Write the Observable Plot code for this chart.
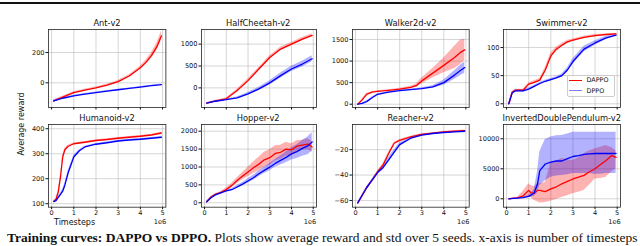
<!DOCTYPE html>
<html><head><meta charset="utf-8">
<script src="https://cdn.jsdelivr.net/npm/d3@7"></script>
<script src="https://cdn.jsdelivr.net/npm/@observablehq/plot@0.6"></script>
<style>
html,body{margin:0;padding:0;background:#fff;overflow:hidden}
#root{position:relative;width:640px;height:246px;overflow:hidden;font-family:"DejaVu Sans",sans-serif;color:#111}
#root svg{position:absolute;overflow:visible}
.t{position:absolute;white-space:nowrap;line-height:1}
.ttl{font-size:8.3px;transform:translateX(-50%)}
</style></head>
<body><div id="root"></div>
<script>
// ---- data (x in millions of timesteps) ----
const titles = ["Ant-v2","HalfCheetah-v2","Walker2d-v2","Swimmer-v2","Humanoid-v2","Hopper-v2","Reacher-v2","InvertedDoublePendulum-v2"];
const seriesNames = ["DAPPO","DPPO"];
const xTicks = [0,1,2,3,4,5];

const antX = [0.1,0.5,1,1.5,2,2.5,3,3.5,4,4.25,4.5,4.75,4.95];
const antRed = [-120,-95,-65,-48,-33,-15,8,45,100,135,180,240,310];
const antRedSd = [6,6,6,6,6,6,7,8,10,14,18,25,30];
const antBlue = [-120,-102,-86,-75,-65,-55,-46,-37,-28,-23,-19,-15,-12];
const antBlueSd = [8,5,4,4,4,4,4,3,3,3,3,3,3];
const antYTicks = [0,200];

const hcX = [0.1,0.5,1,1.5,2,2.5,3,3.5,4,4.5,4.95];
const hcRed = [-350,-300,-250,-61,166,432,695,886,1000,1114,1200];
const hcRedSd = [10,15,20,30,35,35,40,40,35,35,35];
const hcBlue = [-350,-305,-266,-227,-136,-23,114,280,432,545,665];
const hcBlueSd = [10,15,15,20,30,40,50,60,60,65,70];
const hcYTicks = [0,500,1000];

const wkX = [0.1,0.3,0.5,0.75,1,1.5,2,2.5,2.75,3,3.5,4,4.5,4.75,4.95];
const wkRed = [0,100,230,280,295,320,350,390,430,540,720,900,1090,1200,1260];
const wkRedSd = [5,20,20,15,15,15,20,25,40,70,110,170,260,280,250];
const wkBlue = [0,20,60,150,230,280,315,340,350,360,400,500,680,780,850];
const wkBlueSd = [5,10,15,15,15,15,15,15,15,20,30,60,100,120,130];
const wkYTicks = [0,500,1000,1500];

const swX = [0.1,0.25,0.4,0.75,1,1.25,1.5,1.75,2,2.25,2.5,2.75,3,3.5,4,4.5,4.95];
const swRed = [0,20,24,24,35,38,42,60,85,97,104,110,113,118,121,123,124];
const swRedSd = [1,2,2,2,2,3,3,5,5,4,3,3,2,2,2,1,1];
const swBlue = [0,19,23,23,26,31,36,40,43,46,50,60,75,97,108,117,122];
const swBlueSd = [1,2,2,2,2,2,2,2,2,2,3,4,5,5,4,3,2];
const swYTicks = [0,50,100];

const huX = [0.1,0.2,0.3,0.4,0.5,0.6,0.75,1,1.25,1.5,2,2.5,3,3.5,4,4.5,4.95];
const huRed = [110,118,147,207,287,316,330,340,343,346,353,357,362,366,370,375,383];
const huRedSd = [3,4,6,8,8,6,4,3,3,3,3,3,3,3,3,3,3];
const huBlue = [108,112,125,137,150,175,225,287,312,327,338,344,351,355,358,362,366];
const huBlueSd = [3,4,5,6,7,8,8,6,4,3,3,3,3,3,3,3,3];
const huYTicks = [100,200,300,400];

const hoX = [0.1,0.3,0.5,0.75,1,1.25,1.5,1.75,2,2.25,2.5,2.75,3,3.25,3.5,3.75,4,4.25,4.5,4.75,4.95];
const hoRed = [30,160,235,285,370,480,620,745,860,980,1080,1200,1260,1380,1410,1500,1480,1580,1610,1640,1560];
const hoRedSd = [10,20,20,30,40,60,80,100,130,160,190,210,220,210,200,190,170,150,140,150,150];
const hoBlue = [30,140,220,275,330,365,440,520,610,700,810,905,995,1100,1185,1270,1365,1430,1520,1590,1700];
const hoBlueSd = [10,20,20,20,25,30,40,50,60,70,80,90,100,110,130,150,170,190,220,250,260];
const hoYTicks = [0,500,1000,1500,2000];

const reX = [0.1,0.5,0.75,1,1.25,1.5,1.75,2,2.5,3,3.5,4,4.5,4.95];
const reRed = [-62,-50,-44,-37.5,-32,-23,-15,-12.7,-10,-8,-7,-6,-5.5,-5];
const reRedSd = [0.5,0.5,0.5,0.7,1,1,0.8,0.6,0.5,0.5,0.4,0.4,0.4,0.4];
const reBlue = [-62,-50,-44,-38,-34,-28,-22,-16,-11,-8.5,-7.3,-6.5,-6,-5.5];
const reBlueSd = [0.5,0.5,0.6,1,2,2,2,1.5,1,0.6,0.5,0.4,0.4,0.4];
const reYTicks = [-60,-40,-20];

const idX = [0.1,0.5,0.75,1,1.1,1.25,1.4,1.5,1.75,2,2.25,2.5,2.75,3,3.25,3.5,3.75,4,4.25,4.5,4.75,4.95];
const idRed = [0,150,500,1400,1000,900,1400,1400,1200,1650,2000,2500,2900,3300,3600,3900,4500,5000,5700,6400,7200,6900];
const idRedLo = [0,50,100,300,200,-300,-500,-700,-600,-400,-100,200,500,830,1100,1400,2300,3300,3400,3600,4500,5000];
const idRedHi = [0,300,1200,2500,2200,2000,2500,2500,2700,6000,6300,6700,6500,6400,6800,7500,8000,8300,8600,8900,8500,8000];
const idBlue = [0,100,200,400,600,1000,2500,4700,5800,6100,6300,6300,6700,7050,7200,7400,7500,7550,7550,7550,7550,7550];
const idBlueLo = [0,50,100,200,300,400,1000,2200,3000,3600,3800,3900,4000,4200,4200,4200,4200,4100,4100,4200,4200,4200];
const idBlueHi = [0,150,300,600,900,1600,4500,7800,9900,10300,10500,10550,10800,11100,11100,11100,11100,11100,11100,11100,11100,11100];
const idYTicks = [0,5000,10000];

// ---- layout (box edges in page px) ----
const cols = [{l:48.3,r:165.7},{l:200.7,r:315.7},{l:352.3,r:469},{l:503.3,r:620.3}];
const rows = [{t:29.3,b:107.3},{t:124,b:206.7}];
const xDomain = [-0.14,5.15];
const yDomains = [[-163,352],[-448,1334],[-76,1731],[-6.6,131.9],[86,417],[-123,2187],[-65.3,-0.2],[-1400,12383]];

const band = (x, m, sd) => x.map((v,i)=>({x:v, m:m[i], lo:m[i]-sd[i], hi:m[i]+sd[i]}));
const band2 = (x, m, lo, hi) => x.map((v,i)=>({x:v, m:m[i], lo:lo[i], hi:hi[i]}));
const panels = [
  {red:band(antX,antRed,antRedSd), blue:band(antX,antBlue,antBlueSd), yt:antYTicks},
  {red:band(hcX,hcRed,hcRedSd), blue:band(hcX,hcBlue,hcBlueSd), yt:hcYTicks},
  {red:band(wkX,wkRed,wkRedSd), blue:band(wkX,wkBlue,wkBlueSd), yt:wkYTicks},
  {red:band(swX,swRed,swRedSd), blue:band(swX,swBlue,swBlueSd), yt:swYTicks},
  {red:band(huX,huRed,huRedSd), blue:band(huX,huBlue,huBlueSd), yt:huYTicks},
  {red:band(hoX,hoRed,hoRedSd), blue:band(hoX,hoBlue,hoBlueSd), yt:hoYTicks},
  {red:band(reX,reRed,reRedSd), blue:band(reX,reBlue,reBlueSd), yt:reYTicks},
  {red:band2(idX,idRed,idRedLo,idRedHi), blue:band2(idX,idBlue,idBlueLo,idBlueHi), yt:idYTicks}
];

const root = document.getElementById("root");
const fmt = d => d < 0 ? "\u2212" + (-d) : String(d);
function addText(txt, cls, left, top, extra) {
  const d = document.createElement("div");
  d.className = "t " + cls; d.textContent = txt;
  d.style.left = left + "px"; d.style.top = top + "px";
  if (extra) Object.assign(d.style, extra);
  root.appendChild(d); return d;
}

// top rule
const rule = document.createElement("div");
Object.assign(rule.style,{position:"absolute",left:"0",top:"2px",width:"640px",height:"1.6px",background:"#111"});
root.appendChild(rule);

panels.forEach((p, i) => {
  const c = cols[i % 4], r = rows[Math.floor(i / 4)];
  const bottomRow = i >= 4;
  const ml = 32, mr = 4, mt = 4, mb = 14;
  const W = c.r - c.l, H = r.b - r.t;
  const chart = Plot.plot({
    width: W + ml + mr, height: H + mt + mb,
    marginLeft: ml, marginRight: mr, marginTop: mt, marginBottom: mb,
    x: {domain: xDomain}, y: {domain: yDomains[i]},
    style: {fontFamily: "DejaVu Sans", fontSize: "6.6px", color: "#111", background: "transparent", overflow: "visible"},
    marks: [
      Plot.gridX({ticks: xTicks, stroke: "#b0b0b0", strokeOpacity: 0.75, strokeWidth: 0.7}),
      Plot.gridY({ticks: p.yt, stroke: "#b0b0b0", strokeOpacity: 0.75, strokeWidth: 0.7}),
      Plot.areaY(p.red, {x: "x", y1: "lo", y2: "hi", fill: "red", fillOpacity: 0.3, clip: true}),
      Plot.areaY(p.blue, {x: "x", y1: "lo", y2: "hi", fill: "blue", fillOpacity: 0.3, clip: true}),
      Plot.lineY(p.red, {x: "x", y: "m", stroke: "red", strokeWidth: 1.3, clip: true}),
      Plot.lineY(p.blue, {x: "x", y: "m", stroke: "blue", strokeWidth: 1.3, clip: true}),
      Plot.axisX({ticks: xTicks, tickSize: 2.5, tickPadding: 1, label: null, tickFormat: bottomRow ? (d => String(d)) : (() => "")}),
      Plot.axisY({ticks: p.yt, tickSize: 2.5, tickPadding: 1.5, label: null, tickFormat: fmt}),
      Plot.frame({stroke: "#222", strokeWidth: 0.8})
    ]
  });
  chart.style.left = (c.l - ml) + "px";
  chart.style.top = (r.t - mt) + "px";
  root.appendChild(chart);
  addText(titles[i], "ttl", (c.l + c.r) / 2, r.t - 10.3);
  if (bottomRow) addText("1e6", "", c.r - 12, 219, {fontSize: "6.6px"});
});

addText("Timesteps", "", 54, 218.5, {fontSize: "8px"});
addText("Average reward", "", 22, 124, {fontSize: "8px", transform: "translate(-50%,-50%) rotate(-90deg)"});

// legend inside Swimmer panel
const lg = document.createElement("div");
Object.assign(lg.style, {position: "absolute", left: "566.5px", top: "75px", width: "48px", height: "21.5px",
  border: "0.8px solid #ccc", borderRadius: "2px", background: "rgba(255,255,255,0.85)", boxSizing: "border-box"});
root.appendChild(lg);
const lcolors = ["red", "#8080ff"];
seriesNames.forEach((n, k) => {
  const ln = document.createElement("div");
  Object.assign(ln.style, {position: "absolute", left: "569px", top: (79.5 + k * 10.5) + "px", width: "13px", height: "1.3px", background: lcolors[k]});
  root.appendChild(ln);
  addText(n, "", 586.5, 77 + k * 10.5, {fontSize: "6.4px"});
});

// caption
const cap = document.createElement("div");
Object.assign(cap.style, {position: "absolute", left: "7px", top: "231px", whiteSpace: "nowrap", lineHeight: "1",
  fontFamily: "'Liberation Serif', serif", fontSize: "13.5px", color: "#111"});
cap.innerHTML = "<b>Training curves: DAPPO vs DPPO.</b> Plots show average reward and std over 5 seeds. x-axis is number of timesteps";
root.appendChild(cap);
</script></body></html>
